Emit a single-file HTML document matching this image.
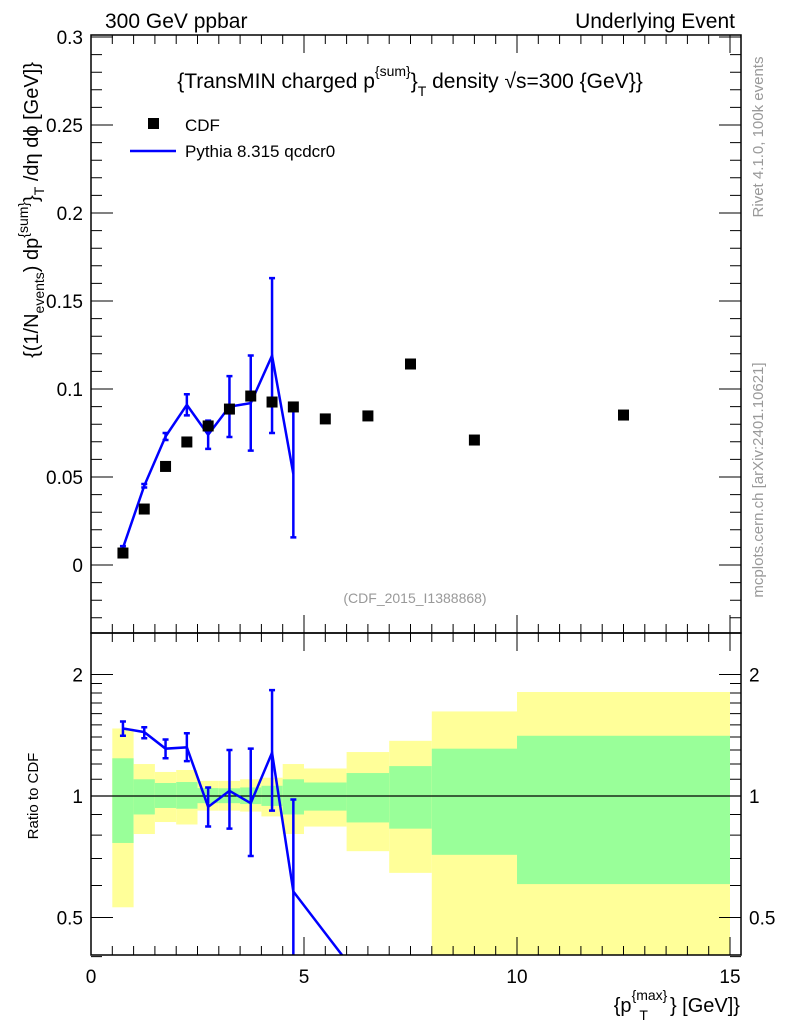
<!DOCTYPE html>
<html><head><meta charset="utf-8"><style>
html,body{margin:0;padding:0;background:#fff;width:786px;height:1024px;overflow:hidden;position:relative}
svg{display:block;font-family:"Liberation Sans",sans-serif}
</style></head><body>
<svg id="c" width="786" height="1024" viewBox="0 0 786 1024" style="position:absolute;left:0;top:0"></svg>
<script>
const binEdges=[0.5,1,1.5,2,2.5,3,3.5,4,4.5,5,6,7,8,10,15];
const dataX=[0.75,1.25,1.75,2.25,2.75,3.25,3.75,4.25,4.75,5.5,6.5,7.5,9,12.5];
const dataY=[0.0068,0.0318,0.056,0.0699,0.079,0.0886,0.096,0.0926,0.0898,0.083,0.0847,0.1142,0.071,0.0852];
const mcX=[0.75,1.25,1.75,2.25,2.75,3.25,3.75,4.25,4.75];
const mcY=[0.0097,0.045,0.073,0.091,0.074,0.09,0.092,0.119,0.0517];
const mcErr=[0.001,0.001,0.002,0.006,0.008,0.0173,0.027,0.044,0.036];
const mcRatioX=[0.75,1.25,1.75,2.25,2.75,3.25,3.75,4.25,4.75,5.5,6.5];
const mcRatio=[1.47,1.44,1.31,1.32,0.94,1.03,0.96,1.28,0.58,0.457,0.333];
const mcRatioLo=[1.41,1.39,1.24,1.22,0.84,0.83,0.71,0.92,0.2,0.2,0.2];
const mcRatioHi=[1.53,1.48,1.38,1.43,1.05,1.30,1.31,1.83,0.98,0.5,0.3];
const statHi=[1.24,1.10,1.077,1.083,1.046,1.045,1.05,1.06,1.10,1.08,1.14,1.186,1.31,1.41];
const statLo=[0.765,0.90,0.934,0.93,0.96,0.96,0.955,0.945,0.90,0.92,0.86,0.83,0.715,0.605];
const totHi=[1.47,1.2,1.147,1.16,1.09,1.09,1.1,1.11,1.2,1.17,1.285,1.37,1.62,1.81];
const totLo=[0.53,0.805,0.862,0.85,0.92,0.92,0.915,0.89,0.805,0.84,0.73,0.645,0.3,0.3];
const mainTicks=[0,0.05,0.1,0.15,0.2,0.25,0.3];
const mainTickLabels=["0","0.05","0.1","0.15","0.2","0.25","0.3"];
const ratioTicks=[0.5,1,2];
const xTicks=[0,5,10,15];

const L=91,R=741,T=35,MB=633,RB=955;
const sx=v=>L+v*42.6;
const sy=v=>565-v*1760;
const ry=r=>796-121.5*Math.log2(r);
const NS="http://www.w3.org/2000/svg";
const svg=document.getElementById('c');
function el(t,a,p){const e=document.createElementNS(NS,t);for(const k in a)e.setAttribute(k,a[k]);(p||svg).appendChild(e);return e;}
function txt(x,y,s,a){const e=el('text',Object.assign({x:x,y:y},a||{}));e.textContent=s;return e;}

const defs=el('defs',{});
const c1=el('clipPath',{id:'cm'},defs);el('rect',{x:L,y:T,width:R-L,height:MB-T},c1);
const c2=el('clipPath',{id:'cr'},defs);el('rect',{x:L,y:MB,width:R-L,height:RB-MB},c2);

const gb=el('g',{'clip-path':'url(#cr)'});


for(let i=0;i<statHi.length;i++){
  const x0=sx(binEdges[i]),x1=sx(binEdges[i+1]);
  const y=el('rect',{x:x0,y:ry(totHi[i]),width:x1-x0,height:ry(totLo[i])-ry(totHi[i]),fill:'#ffff99'},gb);
  
  
  const g=el('rect',{x:x0,y:ry(statHi[i]),width:x1-x0,height:ry(statLo[i])-ry(statHi[i]),fill:'#99ff99'},gb);
  
  
}
el('line',{x1:L,x2:R,y1:ry(1),y2:ry(1),stroke:'#000','stroke-width':1.3},gb);

const gr=el('g',{'clip-path':'url(#cr)'});


el('polyline',{points:mcRatioX.map((x,i)=>sx(x)+','+ry(mcRatio[i])).join(' '),fill:'none',stroke:'#0000ff','stroke-width':2.5},gr);
for(let i=0;i<9;i++){
  const x=sx(mcRatioX[i]),a=ry(mcRatioHi[i]),b=ry(mcRatioLo[i]);
  el('path',{d:`M${x},${a}V${b}M${x-3},${a}h6M${x-3},${b}h6`,stroke:'#0000ff','stroke-width':2.5,fill:'none'},gr);
}

const gm=el('g',{'clip-path':'url(#cm)'});


el('polyline',{points:mcX.map((x,i)=>sx(x)+','+sy(mcY[i])).join(' '),fill:'none',stroke:'#0000ff','stroke-width':2.5},gm);
for(let i=0;i<mcX.length;i++){
  const x=sx(mcX[i]),a=sy(mcY[i]+mcErr[i]),b=sy(mcY[i]-mcErr[i]);
  el('path',{d:`M${x},${a}V${b}M${x-3},${a}h6M${x-3},${b}h6`,stroke:'#0000ff','stroke-width':2.5,fill:'none'},gm);
}
for(let i=0;i<dataX.length;i++){
  const m=el('rect',{x:sx(dataX[i])-5.5,y:sy(dataY[i])-5.5,width:11,height:11,fill:'#000'},gm);
  
  
}

el('rect',{x:L,y:T,width:R-L,height:MB-T,fill:'none',stroke:'#000','stroke-width':1.5});
el('rect',{x:L,y:MB,width:R-L,height:RB-MB,fill:'none',stroke:'#000','stroke-width':1.5});

for(let v=-0.03;v<=0.3001;v+=0.01){
  const y=sy(v);const maj=Math.abs(v*20-Math.round(v*20))<1e-6;const len=maj?22:11;
  el('path',{d:`M${L},${y}h${len}M${R},${y}h${-len}`,stroke:'#000','stroke-width':1});
}
mainTicks.forEach((v,i)=>{const t=txt(L-8,sy(v)+7,mainTickLabels[i],{'font-size':19,'text-anchor':'end'});
 });
[0.4,0.5,0.6,0.7,0.8,0.9,1,2].concat([1.1,1.2,1.3,1.4,1.5,1.6,1.7,1.8,1.9]).forEach(r=>{
  const y=ry(r);const maj=ratioTicks.includes(r);const len=maj?22:11;
  el('path',{d:`M${L},${y}h${len}M${R},${y}h${-len}`,stroke:'#000','stroke-width':1});
});
ratioTicks.forEach(r=>{
  txt(L-8,ry(r)+7,String(r),{'font-size':19,'text-anchor':'end'});
  txt(R+8,ry(r)+7,String(r),{'font-size':19});
});
for(let v=0;v<=15.2;v+=0.5){
  const x=sx(v);const maj=Math.abs(v%5)<1e-6;const len=maj?18:9;
  el('path',{d:`M${x},${MB}v${-len}M${x},${MB}v${len}M${x},${T}v${len}M${x},${RB}v${-len}`,stroke:'#000','stroke-width':1});
}
xTicks.forEach(v=>{const t=txt(sx(v),983,String(v),{'font-size':19,'text-anchor':'middle'});
 });
</script>
<svg width="786" height="1024" style="position:absolute;left:0;top:0" font-family="Liberation Sans, sans-serif">
<text x="105" y="28" font-size="21">300 GeV ppbar</text>
<text x="735" y="28" font-size="21" text-anchor="end">Underlying Event</text>
<text x="410" y="88" font-size="21" text-anchor="middle">{TransMIN charged p<tspan font-size="14" dy="-12">{sum}</tspan><tspan dy="12">}</tspan><tspan font-size="14" dy="8">T</tspan><tspan dy="-8"> density √s=300 {GeV}}</tspan></text>
<rect x="148" y="118" width="11" height="11" fill="#000"/>
<text x="185" y="131" font-size="17">CDF</text>
<line x1="130" x2="176" y1="151" y2="151" stroke="#0000ff" stroke-width="2.5"/>
<text x="185" y="157" font-size="17">Pythia 8.315 qcdcr0</text>
<text x="415" y="603" font-size="14" fill="#999" text-anchor="middle">(CDF_2015_I1388868)</text>
<text transform="translate(38,210) rotate(-90)" font-size="20" text-anchor="middle">{(1/N<tspan font-size="14" dy="6">events</tspan><tspan dy="-6">) dp</tspan><tspan font-size="14" dy="-10">{sum}</tspan><tspan dy="10">}</tspan><tspan font-size="14" dy="6">T</tspan><tspan dy="-6"> /dη  dϕ [GeV]}</tspan></text>
<text transform="translate(38,796) rotate(-90)" font-size="15" text-anchor="middle">Ratio to CDF</text>
<text x="740" y="1012" font-size="20" text-anchor="end">{p<tspan font-size="14" dy="-12">{max}</tspan><tspan font-size="14" dx="-28" dy="20">T</tspan><tspan dx="22" dy="-8">} [GeV]}</tspan></text>
<text transform="translate(763,137) rotate(-90)" font-size="15" fill="#999" text-anchor="middle">Rivet 4.1.0,  100k events</text>
<text transform="translate(763,480) rotate(-90)" font-size="15" fill="#999" text-anchor="middle">mcplots.cern.ch [arXiv:2401.10621]</text>
</svg>
</body></html>
